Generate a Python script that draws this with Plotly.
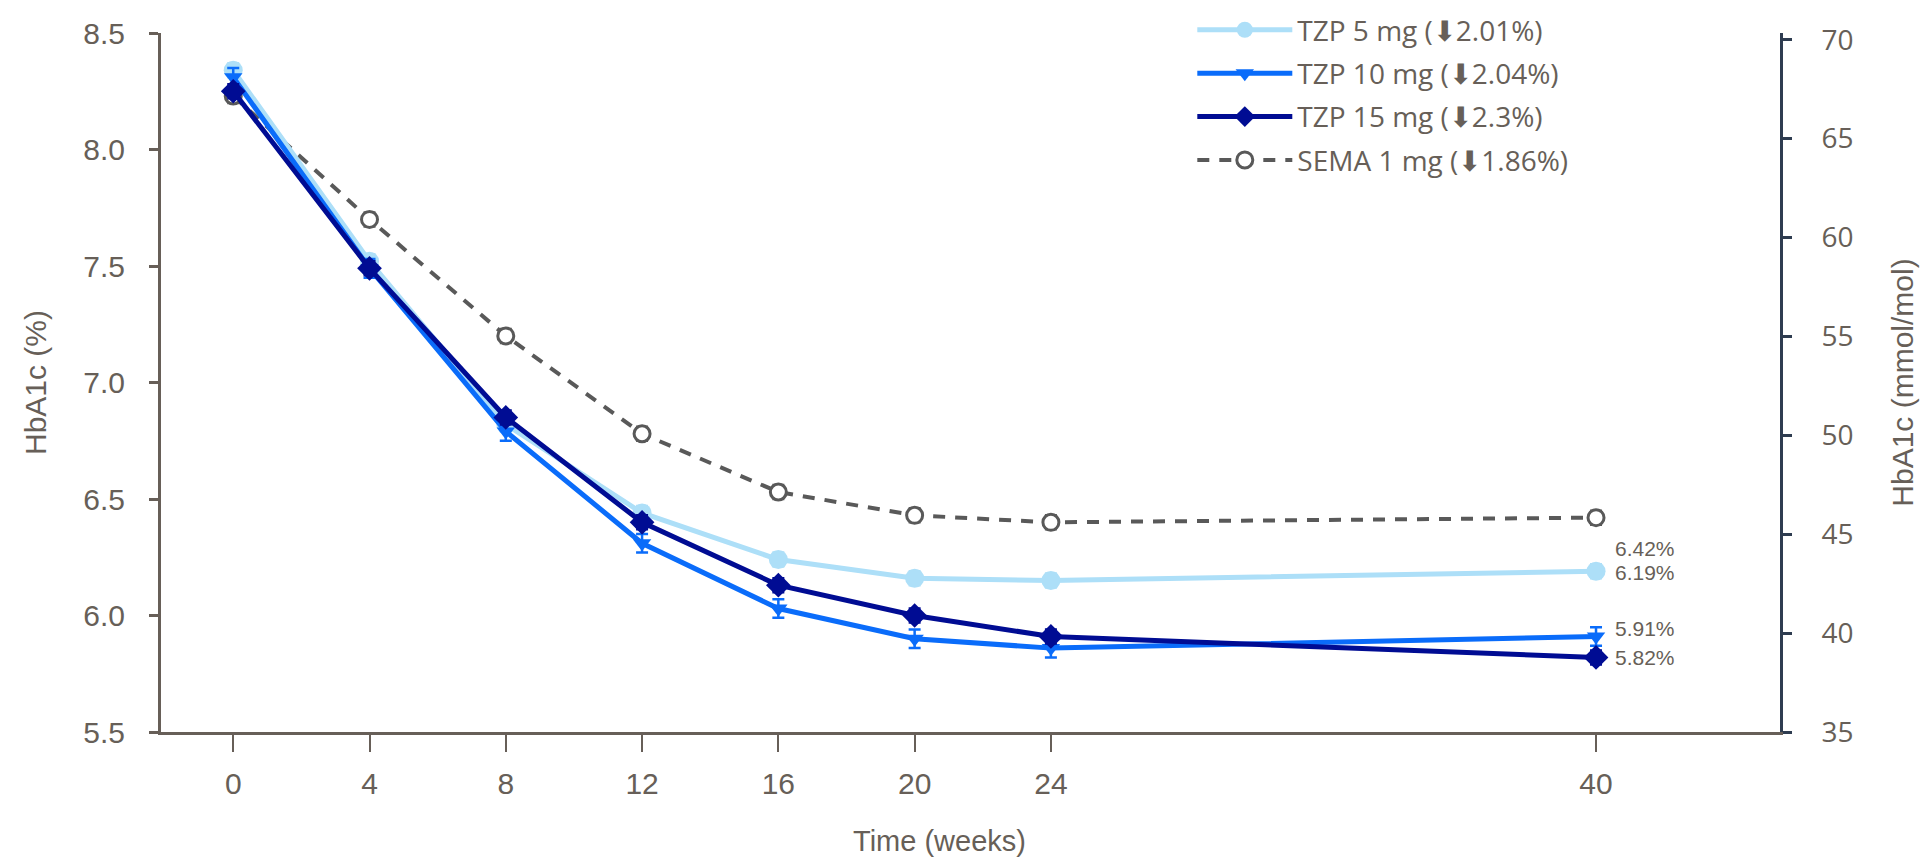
import plotly.graph_objects as go

weeks = [0, 4, 8, 12, 16, 20, 24, 40]
tzp5 = [8.34, 7.52, 6.82, 6.44, 6.24, 6.16, 6.15, 6.19]
tzp10 = [8.31, 7.49, 6.79, 6.31, 6.03, 5.90, 5.86, 5.91]
tzp15 = [8.25, 7.49, 6.85, 6.40, 6.13, 6.00, 5.91, 5.82]
sema = [8.23, 7.70, 7.20, 6.78, 6.53, 6.43, 6.40, 6.42]
err5 = [0.03] * 8
err10 = [0.04] * 8
err15 = [0.03] * 8
errs = [0.03] * 8
names = ["TZP 5 mg (⬇2.01%)", "TZP 10 mg (⬇2.04%)", "TZP 15 mg (⬇2.3%)", "SEMA 1 mg (⬇1.86%)"]
x_ticks = [0, 4, 8, 12, 16, 20, 24, 40]
left_ticks = [5.5, 6.0, 6.5, 7.0, 7.5, 8.0, 8.5]
right_ticks = [35, 40, 45, 50, 55, 60, 65, 70]

TXT = "#675f58"
C5 = "#addff8"
C10 = "#0a6cfa"
C15 = "#000c93"
CS = "#595959"

fig = go.Figure()

fig.add_trace(go.Scatter(
    x=weeks, y=sema, name=names[3], legendrank=4, legendgroup="d",
    mode="lines+markers",
    line=dict(color=CS, width=4, dash="12px,10px"),
    marker=dict(symbol="circle", size=16, color="white", line=dict(color=CS, width=3)),
    error_y=dict(type="data", array=errs, color=CS, thickness=2.5, width=6),
))
fig.add_trace(go.Scatter(
    x=weeks, y=tzp5, name=names[0], legendrank=1, legendgroup="a",
    mode="lines+markers",
    line=dict(color=C5, width=5),
    marker=dict(symbol="circle", size=19, color=C5),
    error_y=dict(type="data", array=err5, color=C5, thickness=2.5, width=6),
))
fig.add_trace(go.Scatter(
    x=weeks, y=tzp10, name=names[1], legendrank=2, legendgroup="b",
    mode="lines+markers",
    line=dict(color=C10, width=5),
    marker=dict(symbol="triangle-down", size=16, color=C10),
    error_y=dict(type="data", array=err10, color=C10, thickness=2.5, width=6),
))
fig.add_trace(go.Scatter(
    x=weeks, y=tzp15, name=names[2], legendrank=3, legendgroup="c",
    mode="lines+markers",
    line=dict(color=C15, width=5),
    marker=dict(symbol="diamond", size=19, color=C15),
    error_y=dict(type="data", array=err15, color=C15, thickness=2.5, width=6),
))
# invisible trace to activate right axis
fig.add_trace(go.Scatter(x=[weeks[0]], y=[right_ticks[0]], yaxis="y2", mode="markers",
                         marker=dict(opacity=0), showlegend=False, hoverinfo="skip"))

# end labels
label_shifts = {"sema": -31, "tzp5": -1, "tzp10": 8, "tzp15": 0}
for key, series in [("sema", sema), ("tzp5", tzp5), ("tzp10", tzp10), ("tzp15", tzp15)]:
    fig.add_annotation(x=weeks[-1], y=series[-1], text=f"{series[-1]:.2f}%", showarrow=False,
                       xanchor="left", yanchor="middle", xshift=17, yshift=label_shifts[key],
                       font=dict(family="Liberation Sans, Arial", size=21, color=TXT))

fig.add_annotation(x=0.481, y=-0.156, xref="paper", yref="paper", yanchor="middle",
                   text="Time (weeks)", showarrow=False,
                   font=dict(family="Liberation Sans, Arial", size=29, color=TXT))

fig.update_layout(
    width=1931, height=858,
    margin=dict(l=161, r=151, t=33, b=126, autoexpand=False),
    paper_bgcolor="white", plot_bgcolor="white",
    showlegend=True,
    legend=dict(x=0.637, y=1.04, xanchor="left", yanchor="top",
                font=dict(family="Open Sans", size=28, color=TXT), itemwidth=95,
                tracegroupgap=4, bgcolor="rgba(0,0,0,0)"),
    xaxis=dict(range=[-2.12, 45.40], tickvals=x_ticks, ticks="outside", ticklen=17, tickwidth=2,
               tickcolor=TXT, showline=True, linecolor=TXT, linewidth=3, showgrid=False, zeroline=False,
               tickfont=dict(family="Liberation Sans, Arial", size=30, color=TXT), ticklabelstandoff=6),
    yaxis=dict(range=[5.5, 8.5], tickvals=left_ticks, ticktext=[f"{v:.1f}" for v in left_ticks],
               ticks="outside", ticklen=9, tickwidth=3, tickcolor=TXT, showline=True, linecolor=TXT,
               linewidth=3, showgrid=False, zeroline=False, ticklabelstandoff=18,
               tickfont=dict(family="Liberation Sans, Arial", size=30, color=TXT),
               title=dict(text="HbA1c (%)", standoff=28,
                          font=dict(family="Liberation Sans, Arial", size=30, color=TXT))),
    yaxis2=dict(range=[35, 70.34], tickvals=right_ticks, overlaying="y", side="right",
                ticks="outside", ticklen=9, tickwidth=3, tickcolor="#2e3c50", showline=True,
                linecolor="#2e3c50", linewidth=3, showgrid=False, zeroline=False, ticklabelstandoff=24,
                tickfont=dict(family="Open Sans", size=28, color=TXT),
                title=dict(text="HbA1c (mmol/mol)", standoff=40,
                           font=dict(family="Liberation Sans, Arial", size=30, color=TXT))),
)

fig.write_html("out.html")
